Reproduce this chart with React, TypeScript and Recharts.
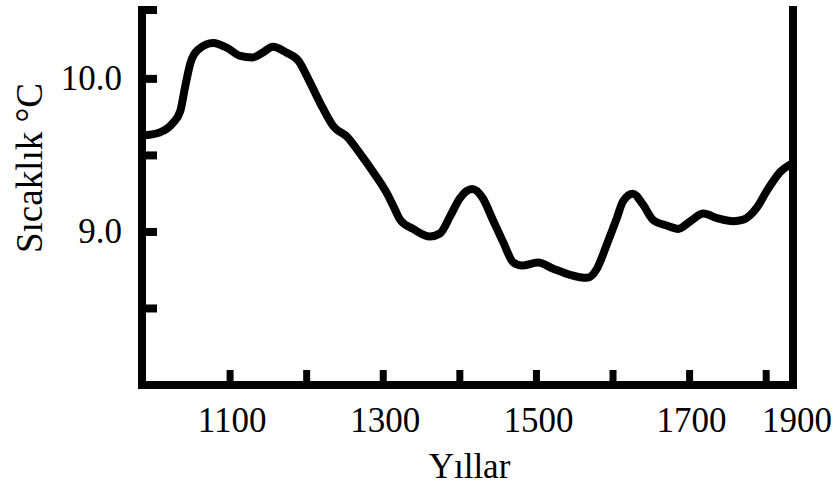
import { LineChart, Line, XAxis, YAxis } from "recharts";

const years = [
  985, 1008, 1025, 1035, 1041, 1048, 1058, 1078, 1097, 1113, 1129, 1142, 1156, 1174, 1189,
  1204, 1221, 1235, 1253, 1270, 1287, 1305, 1315, 1322, 1339, 1361, 1374, 1387, 1400, 1416,
  1430, 1443, 1456, 1470, 1481, 1502, 1522, 1544, 1566, 1579, 1592, 1605, 1613, 1626, 1639,
  1652, 1671, 1685, 1701, 1718, 1736, 1757, 1770, 1788, 1801, 1818, 1835,
];
const temps = [
  9.63, 9.65, 9.71, 9.79, 9.94, 10.1, 10.19, 10.235, 10.2, 10.15, 10.14, 10.17, 10.21, 10.17, 10.12,
  9.98, 9.81, 9.69, 9.62, 9.51, 9.39, 9.25, 9.15, 9.08, 9.02, 8.97, 8.99, 9.1, 9.22, 9.28,
  9.22, 9.08, 8.94, 8.8, 8.78, 8.8, 8.76, 8.72, 8.7, 8.76, 8.92, 9.09, 9.2, 9.25, 9.18,
  9.08, 9.04, 9.02, 9.07, 9.12, 9.09, 9.07, 9.08, 9.16, 9.27, 9.39, 9.45,
];

const xDomain = [985, 1835];
const xTicks = [1100, 1200, 1300, 1400, 1500, 1600, 1700, 1800];
const xLabeled = [1100, 1300, 1500, 1700];
const xEndLabel = "1900";

const yDomain = [8.0, 10.45];
const yTicks = [8.5, 9.0, 9.5, 10.0];
const yLabeled = [9.0, 10.0];

const data = years.map((year, i) => ({ year, temp: temps[i] }));

const FONT = '"Liberation Serif", "Times New Roman", serif';
const AXIS = { stroke: "#000", strokeWidth: 8, strokeLinecap: "square" as const };

function XTick({ x, y, payload }: any) {
  const v = payload.value;
  if (v === xDomain[1]) {
    return (
      <text x={x + 4} y={y + 47} textAnchor="middle" fontSize={35} fontFamily={FONT} fill="#000">
        {xEndLabel}
      </text>
    );
  }
  return (
    <g>
      <line x1={x} x2={x} y1={y} y2={y - 15} stroke="#000" strokeWidth={7} />
      {xLabeled.includes(v) && (
        <text x={x + 2} y={y + 47} textAnchor="middle" fontSize={35} fontFamily={FONT} fill="#000">
          {v}
        </text>
      )}
    </g>
  );
}

function YTickLeft({ x, y, payload }: any) {
  const v = payload.value;
  return (
    <g>
      <line x1={x} x2={x + 15} y1={y} y2={y} stroke="#000" strokeWidth={8} />
      {yLabeled.includes(v) && (
        <text x={x - 20} y={y + 11} textAnchor="end" fontSize={35} fontFamily={FONT} fill="#000">
          {v.toFixed(1)}
        </text>
      )}
    </g>
  );
}

function YTickRight({ x, y }: any) {
  return <line x1={x} x2={x - 14} y1={y} y2={y} stroke="#000" strokeWidth={8} />;
}

export default function App() {
  return (
    <div style={{ position: "absolute", left: 0, top: 0, background: "#fff" }}>
      <LineChart width={839} height={490} data={data} margin={{ top: 10, right: 0, bottom: 0, left: 0 }}>
        <XAxis
          dataKey="year"
          type="number"
          domain={xDomain}
          ticks={[...xTicks, xDomain[1]]}
          interval={0}
          height={105}
          axisLine={AXIS}
          tickLine={false}
          tickSize={0}
          tickMargin={0}
          tick={<XTick />}
          label={({ viewBox }: any) => (
            <text
              x={viewBox.x + viewBox.width / 2 + 2}
              y={viewBox.y + 93}
              textAnchor="middle"
              fontSize={35}
              fontFamily={FONT}
              fill="#000"
            >
              Yıllar
            </text>
          )}
        />
        <YAxis
          yAxisId="left"
          type="number"
          domain={yDomain}
          ticks={[...yTicks, yDomain[1]]}
          interval={0}
          width={142}
          axisLine={AXIS}
          tickLine={false}
          tickSize={0}
          tickMargin={0}
          tick={<YTickLeft />}
          label={({ viewBox }: any) => {
            const cx = 42;
            const cy = viewBox.y + 158;
            return (
              <text
                x={cx}
                y={cy}
                transform={`rotate(-90, ${cx}, ${cy})`}
                textAnchor="middle"
                fontSize={37}
                fontFamily={FONT}
                fill="#000"
              >
                Sıcaklık °C
              </text>
            );
          }}
        />
        <YAxis
          yAxisId="right"
          orientation="right"
          type="number"
          domain={yDomain}
          ticks={[...yTicks, yDomain[1]]}
          interval={0}
          width={46}
          axisLine={AXIS}
          tickLine={false}
          tickSize={0}
          tickMargin={0}
          tick={<YTickRight />}
        />
        <Line
          yAxisId="left"
          type="monotone"
          dataKey="temp"
          stroke="#000"
          strokeWidth={8}
          strokeLinecap="round"
          strokeLinejoin="round"
          dot={false}
          isAnimationActive={false}
        />
      </LineChart>
    </div>
  );
}
